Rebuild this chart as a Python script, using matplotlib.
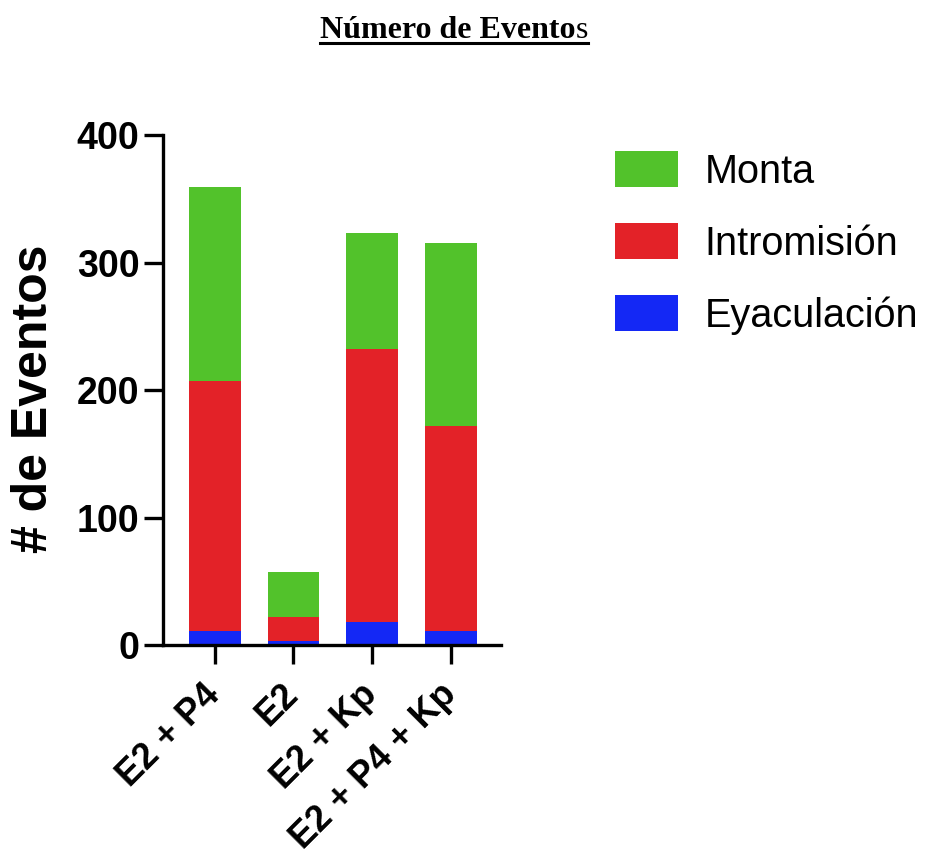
import matplotlib
matplotlib.use("Agg")
import matplotlib.pyplot as plt
from matplotlib.lines import Line2D
from matplotlib.patches import Patch
import numpy as np

categories = ["E2 + P4", "E2", "E2 + Kp", "E2 + P4 + Kp"]
eyaculacion = [11, 3, 18, 11]
intromision = [196, 19, 214, 161]
monta = [152, 35, 91, 143]
series_names = ["Monta", "Intromisión", "Eyaculación"]
colors = {"Monta": "#52C22B", "Intromisión": "#E32228", "Eyaculación": "#1428F5"}
yticks = [0, 100, 200, 300, 400]

W, H = 928, 859
fig = plt.figure(figsize=(W / 100, H / 100), dpi=100)
ax = fig.add_axes([163 / W, (H - 645) / H, 338 / W, 510 / H])

x = np.arange(len(categories))
bw = 0.66
b1 = np.array(eyaculacion)
b2 = b1 + np.array(intromision)
ax.bar(x, eyaculacion, bw, color=colors["Eyaculación"], linewidth=0)
ax.bar(x, intromision, bw, bottom=b1, color=colors["Intromisión"], linewidth=0)
ax.bar(x, monta, bw, bottom=b2, color=colors["Monta"], linewidth=0)

ax.set_xlim(-0.66, 3.64)
ax.set_ylim(0, 400)
ax.set_yticks(yticks)
ax.set_yticklabels([str(t) for t in yticks], fontsize=27, fontweight="bold", family="Liberation Sans")
ax.set_xticks(x)
ax.set_xticklabels(categories, fontsize=26, fontweight="bold", family="Liberation Sans",
                   rotation=45, ha="right", va="center", rotation_mode="anchor")
for s in ["top", "right"]:
    ax.spines[s].set_visible(False)
for s in ["left", "bottom"]:
    ax.spines[s].set_linewidth(2.4)
ax.tick_params(axis="both", direction="out", length=14, width=2.4)
ax.tick_params(axis="y", pad=3)
ax.tick_params(axis="x", pad=18)
ax.set_ylabel("# de Eventos", fontsize=36, fontweight="bold", family="Liberation Sans")
ax.yaxis.set_label_coords(-0.313, 0.482)

handles = [Patch(facecolor=colors[n], edgecolor="none") for n in series_names]
fig.legend(handles, series_names, loc="upper left", bbox_to_anchor=(615 / W, 1 - 151 / H),
           frameon=False, prop={"family": "Liberation Sans", "size": 28.5},
           handlelength=1.6, handleheight=1.03, handletextpad=0.66, labelspacing=0.82,
           borderaxespad=0, borderpad=0)

# Title with underline
t1 = fig.text(320 / W, 1 - 30 / H, "Número de Evento", fontsize=23, fontweight="bold",
              family="Liberation Serif", ha="left", va="center")
fig.canvas.draw()
r = fig.canvas.get_renderer()
bb1 = t1.get_window_extent(r)
t2 = fig.text(bb1.x1 / W, 1 - 30 / H, "s", fontsize=23, fontweight="normal",
              family="Liberation Serif", ha="left", va="center")
fig.canvas.draw()
bb2 = t2.get_window_extent(r)
uy = (H - 43) / H
fig.add_artist(Line2D([bb1.x0 / W, bb2.x1 / W], [uy, uy], color="black", linewidth=2.2,
                      transform=fig.transFigure))

fig.savefig("out.png", dpi=100)
